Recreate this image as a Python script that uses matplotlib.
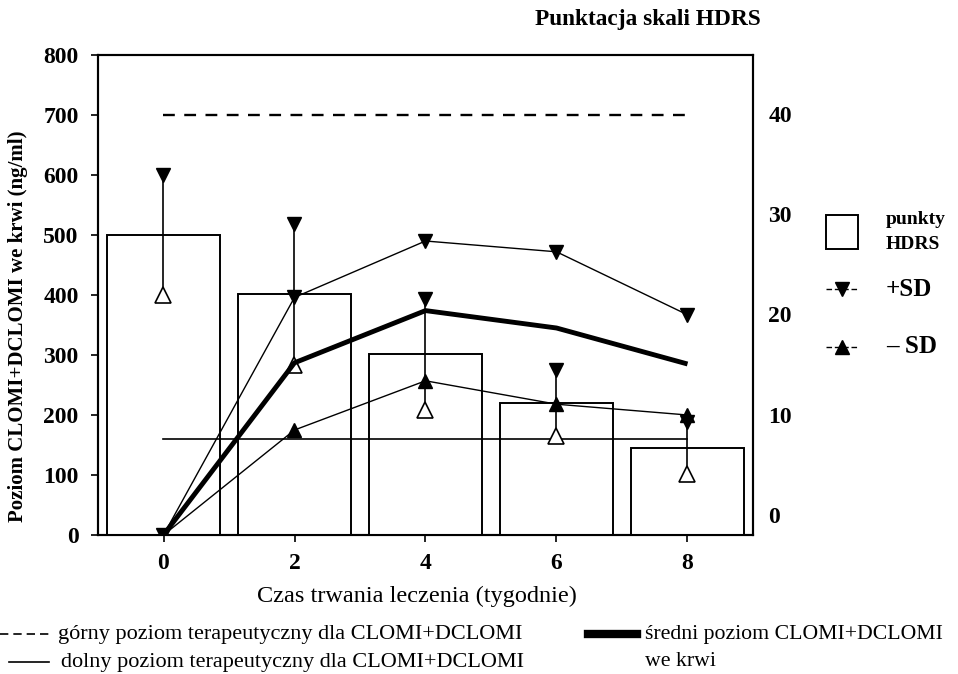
import matplotlib
matplotlib.use("Agg")
import matplotlib.pyplot as plt
from matplotlib.lines import Line2D
from matplotlib.patches import Rectangle

# ---- data ----
weeks = [0, 2, 4, 6, 8]
mean_level = [0, 287, 374, 345, 285]        # średni poziom CLOMI+DCLOMI (ng/ml)
plus_sd = [0, 396, 490, 472, 367]           # +SD
minus_sd = [0, 175, 257, 218, 200]          # -SD
upper_ther = 700                            # górny poziom terapeutyczny
lower_ther = 160                            # dolny poziom terapeutyczny
hdrs_mean = [27.9, 22.0, 16.0, 11.2, 6.7]   # punkty HDRS
hdrs_sd = [6.0, 7.0, 5.5, 3.3, 2.6]
left_ticks = [0, 100, 200, 300, 400, 500, 600, 700, 800]
right_ticks = [0, 10, 20, 30, 40]
x_ticks = [0, 2, 4, 6, 8]

plt.rcParams['font.family'] = ['Liberation Serif', 'DejaVu Serif']

W, H = 958, 674
fig = plt.figure(figsize=(W / 100, H / 100), dpi=100)
ax = fig.add_axes([98 / W, 1 - 535 / H, (753 - 98) / W, (535 - 55) / H])
ax2 = ax.twinx()

ax.set_xlim(-1.0, 9.0)
ax.set_ylim(0, 800)
# right (HDRS) scale as drawn in the original: HDRS = (ng/ml - 33.8) / 16.69
R0, RS = 33.8, 16.69
ax2.set_ylim((0 - R0) / RS, (800 - R0) / RS)
to_r = lambda v: (v - R0) / RS

# bars (HDRS scores) on right scale
ybot = ax2.get_ylim()[0]
ax2.bar(weeks, [m - ybot for m in hdrs_mean], bottom=ybot,
        width=1.72, facecolor='white', edgecolor='black', linewidth=1.4, zorder=1)
# HDRS SD bars
for x, m, s in zip(weeks, hdrs_mean, hdrs_sd):
    ax2.plot([x, x], [m - s, m + s], color='black', lw=1.2, zorder=3)
ax2.plot(weeks, [m + s for m, s in zip(hdrs_mean, hdrs_sd)], ls='none', marker='v',
         ms=10, mfc='black', mec='black', zorder=4)
ax2.plot(weeks, [m - s for m, s in zip(hdrs_mean, hdrs_sd)], ls='none', marker='^',
         ms=11, mfc='white', mec='black', mew=1.2, zorder=4)

# therapeutic limits
ax2.plot([weeks[0], weeks[-1]], [to_r(upper_ther)] * 2, color='black',
         ls=(0, (5, 4)), lw=1.7, zorder=2)
ax2.plot([weeks[0], weeks[-1]], [to_r(lower_ther)] * 2, color='black',
         lw=1.2, zorder=2)

# blood level lines
ax2.plot(weeks, [to_r(v) for v in plus_sd], color='black', lw=1.0, marker='v', ms=10,
         mfc='black', zorder=5)
ax2.plot(weeks, [to_r(v) for v in minus_sd], color='black', lw=1.0, marker='^', ms=10,
         mfc='black', zorder=5)
ax2.plot(weeks, [to_r(v) for v in mean_level], color='black', lw=3.5, zorder=6,
         solid_capstyle='butt')

# axes styling
for a in (ax, ax2):
    for sp in a.spines.values():
        sp.set_linewidth(1.5)
ax.set_xticks(x_ticks)
ax.set_yticks(left_ticks)
ax.tick_params(axis='both', direction='out', length=5, width=1.2, labelsize=17,
               pad=9)
ax.tick_params(axis='x', pad=8)
for lbl in ax.get_xticklabels() + ax.get_yticklabels():
    lbl.set_fontweight('bold')
ax2.set_yticks(right_ticks)
ax2.tick_params(axis='y', length=0, labelsize=17, pad=11)
for lbl in ax2.get_yticklabels():
    lbl.set_fontweight('bold')
    lbl.set_horizontalalignment('left')

# labels
fig.text(18 / W, 1 - 326 / H, 'Poziom CLOMI+DCLOMI we krwi (ng/ml)', rotation=90,
         ha='center', va='center', fontsize=15, fontweight='bold')
fig.text(417 / W, 1 - 596 / H, 'Czas trwania leczenia (tygodnie)', ha='center',
         va='center', fontsize=17.5)
fig.text(535 / W, 1 - 19 / H, 'Punktacja skali HDRS', ha='left', va='center',
         fontsize=16.8, fontweight='bold')

# right legend
fig.add_artist(Rectangle((826 / W, 1 - 249 / H), 32 / W, 34 / H, transform=fig.transFigure,
                         facecolor='white', edgecolor='black', lw=1.4))
fig.text(886 / W, 1 - 220 / H, 'punkty', ha='left', va='center', fontsize=14,
         fontweight='bold')
fig.text(886 / W, 1 - 244 / H, 'HDRS', ha='left', va='center', fontsize=14,
         fontweight='bold')
for yy, mk, lab in [(289, 'v', '+SD'), (347, '^', '\u2013 SD')]:
    fig.add_artist(Line2D([826 / W, 858 / W], [1 - yy / H] * 2, transform=fig.transFigure,
                          color='black', lw=1.0, ls=(0, (4, 2))))
    fig.add_artist(Line2D([842 / W], [1 - yy / H], transform=fig.transFigure,
                          color='black', marker=mk, ms=10, ls='none'))
    fig.text(886 / W, 1 - yy / H, lab, ha='left', va='center', fontsize=18,
             fontweight='bold')

# bottom legend
fig.add_artist(Line2D([0 / W, 49 / W], [1 - 634 / H] * 2, transform=fig.transFigure,
                      color='black', lw=1.2, ls=(0, (5, 3))))
fig.text(58 / W, 1 - 634 / H, 'górny poziom terapeutyczny dla CLOMI+DCLOMI',
         ha='left', va='center', fontsize=16)
fig.add_artist(Line2D([9 / W, 49 / W], [1 - 662 / H] * 2, transform=fig.transFigure,
                      color='black', lw=1.2))
fig.text(61 / W, 1 - 662 / H, 'dolny poziom terapeutyczny dla CLOMI+DCLOMI',
         ha='left', va='center', fontsize=16)
fig.add_artist(Line2D([588 / W, 637 / W], [1 - 634 / H] * 2, transform=fig.transFigure,
                      color='black', lw=6))
fig.text(645 / W, 1 - 634 / H, 'średni poziom CLOMI+DCLOMI', ha='left', va='center',
         fontsize=15.7)
fig.text(645 / W, 1 - 662 / H, 'we krwi', ha='left', va='center', fontsize=15.7)

fig.savefig('out.png', dpi=100)
